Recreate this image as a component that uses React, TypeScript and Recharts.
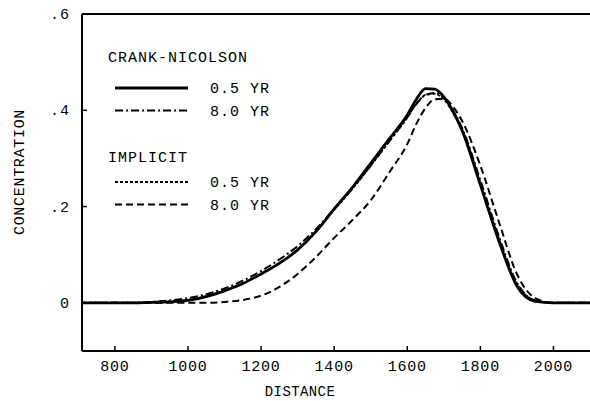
import React from 'react';
import { LineChart, Line, XAxis, YAxis, ReferenceLine } from 'recharts';

const distance = [700, 750, 800, 850, 900, 950, 1000, 1050, 1100, 1150, 1200, 1250, 1300, 1350, 1400, 1450, 1500, 1550, 1600, 1625, 1650, 1675, 1700, 1725, 1750, 1800, 1850, 1900, 1950, 2000, 2050, 2100];
const crankNicolson05 = [0, 0, 0, 0, 0.001, 0.002, 0.005, 0.013, 0.025, 0.04, 0.06, 0.082, 0.11, 0.148, 0.195, 0.24, 0.29, 0.34, 0.39, 0.423, 0.445, 0.444, 0.428, 0.398, 0.358, 0.245, 0.13, 0.035, 0.003, 0, 0, 0];
const crankNicolson80 = [0, 0, 0, 0, 0.002, 0.005, 0.01, 0.018, 0.03, 0.046, 0.066, 0.09, 0.118, 0.153, 0.195, 0.238, 0.285, 0.335, 0.385, 0.413, 0.432, 0.436, 0.426, 0.4, 0.363, 0.255, 0.14, 0.042, 0.005, 0, 0, 0];
const implicit05 = [0, 0, 0, 0, 0.001, 0.003, 0.006, 0.014, 0.026, 0.041, 0.06, 0.083, 0.111, 0.148, 0.193, 0.237, 0.285, 0.335, 0.385, 0.414, 0.432, 0.434, 0.423, 0.395, 0.36, 0.25, 0.135, 0.04, 0.005, 0, 0, 0];
const implicit80 = [0, 0, 0, 0, 0, 0, 0, 0, 0.002, 0.006, 0.015, 0.033, 0.06, 0.095, 0.135, 0.172, 0.213, 0.27, 0.33, 0.372, 0.405, 0.423, 0.424, 0.408, 0.378, 0.285, 0.17, 0.06, 0.01, 0, 0, 0];

const xTicks = [800, 1000, 1200, 1400, 1600, 1800, 2000];
const yTicks = [0, 0.2, 0.4, 0.6];
const yTickLabels = ['0', '.2', '.4', '.6'];
const legendGroups = ['CRANK-NICOLSON', 'IMPLICIT'];
const legendTimes = ['0.5 YR', '8.0 YR'];

const data = distance.map((d, i) => ({
  d,
  cn05: crankNicolson05[i],
  cn80: crankNicolson80[i],
  im05: implicit05[i],
  im80: implicit80[i],
}));

const FONT = '"Liberation Mono", "DejaVu Sans Mono", monospace';
const W = 590;
const H = 401;
const M = { top: 14, right: 0, left: 22, bottom: 20 };

const XTick = (props: any) => {
  const { x, y, payload } = props;
  return (
    <g>
      <line x1={x} y1={y} x2={x} y2={y - 5} stroke="#000" strokeWidth={1.5} />
      <text x={x} y={y + 20} textAnchor="middle" fontFamily={FONT} fontSize={15} letterSpacing={0.8} fill="#000">
        {payload.value}
      </text>
    </g>
  );
};

const YTick = (props: any) => {
  const { x, y, payload } = props;
  const idx = yTicks.indexOf(payload.value);
  return (
    <g>
      <line x1={x} y1={y} x2={x + 5} y2={y} stroke="#000" strokeWidth={1.5} />
      <text x={x - 12} y={y + 5} textAnchor="end" fontFamily={FONT} fontSize={15} letterSpacing={1} fill="#000">
        {idx >= 0 ? yTickLabels[idx] : ''}
      </text>
    </g>
  );
};

const styles = [
  { dash: undefined, w: 2.8 },
  { dash: '8 3 2 3', w: 2 },
  { dash: '3 2', w: 1.8 },
  { dash: '7 4', w: 2 },
];

export default function App() {
  return (
    <div style={{ position: 'absolute', left: 0, top: 0, width: W, height: H, background: '#fff' }}>
      <LineChart width={W} height={H} data={data} margin={M}>
        <XAxis
          dataKey="d"
          type="number"
          domain={[710, 2100]}
          ticks={xTicks}
          height={30}
          tickSize={0}
          tickMargin={0}
          tickLine={false}
          tick={<XTick />}
          axisLine={{ stroke: '#000', strokeWidth: 2 }}
          allowDataOverflow
        />
        <YAxis
          type="number"
          domain={[-0.1, 0.6]}
          ticks={yTicks}
          width={60}
          tickSize={0}
          tickMargin={0}
          tickLine={false}
          tick={<YTick />}
          axisLine={{ stroke: '#000', strokeWidth: 2 }}
          allowDataOverflow
        />
        <ReferenceLine y={0.6} stroke="#000" strokeWidth={2} />
        <Line dataKey="im80" type="monotone" stroke="#000" strokeWidth={styles[3].w} strokeDasharray={styles[3].dash} dot={false} isAnimationActive={false} />
        <Line dataKey="im05" type="monotone" stroke="#000" strokeWidth={styles[2].w} strokeDasharray={styles[2].dash} dot={false} isAnimationActive={false} />
        <Line dataKey="cn80" type="monotone" stroke="#000" strokeWidth={styles[1].w} strokeDasharray={styles[1].dash} dot={false} isAnimationActive={false} />
        <Line dataKey="cn05" type="monotone" stroke="#000" strokeWidth={styles[0].w} dot={false} isAnimationActive={false} />
      </LineChart>
      <svg width={W} height={H} style={{ position: 'absolute', left: 0, top: 0, pointerEvents: 'none' }}>
        <text x={20} y={172} transform="rotate(-90 20 172)" textAnchor="middle" dominantBaseline="central" fontFamily={FONT} fontSize={15} letterSpacing={0.7} fill="#000">
          CONCENTRATION
        </text>
        <text x={300} y={396} textAnchor="middle" fontFamily={FONT} fontSize={14} letterSpacing={0.4} fill="#000">
          DISTANCE
        </text>
        {legendGroups.map((g, gi) => {
          const baseY = gi === 0 ? 57 : 157;
          return (
            <g key={g}>
              <text x={108} y={baseY + 5} fontFamily={FONT} fontSize={15} letterSpacing={1} fill="#000">{g}</text>
              {legendTimes.map((t, ti) => {
                const s = styles[gi * 2 + ti];
                const y = baseY + (gi === 0 ? 31 : 25) + ti * 22.5;
                return (
                  <g key={t}>
                    <line x1={115} y1={y} x2={188} y2={y} stroke="#000" strokeWidth={s.w} strokeDasharray={s.dash} />
                    <text x={210} y={y + 5} fontFamily={FONT} fontSize={15} letterSpacing={1} fill="#000">{t}</text>
                  </g>
                );
              })}
            </g>
          );
        })}
      </svg>
    </div>
  );
}
